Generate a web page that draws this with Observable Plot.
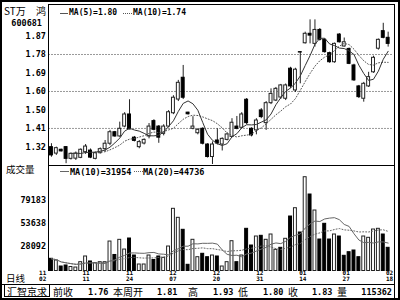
<!DOCTYPE html>
<html><head><meta charset="utf-8">
<script src="https://cdn.jsdelivr.net/npm/d3@7"></script>
<script src="https://cdn.jsdelivr.net/npm/@observablehq/plot@0.6"></script>
<style>
body{margin:0;background:#fff;}
#wrap{position:relative;width:400px;height:300px;overflow:hidden;background:#fff;}
.ln{position:absolute;background:#000;}
.t{position:absolute;white-space:pre;color:#000;}
.num{font:bold 8.5px "DejaVu Sans Mono",monospace;}
.lg{font:bold 8px "DejaVu Sans Mono",monospace;}
.cjk{font:10px "Noto Sans CJK SC",sans-serif;}
.cjks{font:9.5px "Noto Sans CJK SC",sans-serif;}
</style></head><body><div id="wrap"></div>
<script>
// ---- data ----
const open = [1.319,1.287,1.306,1.319,1.261,1.262,1.266,1.294,1.302,1.261,
1.289,1.309,1.336,1.393,1.372,1.421,1.481,1.366,1.319,1.337,
1.372,1.448,1.421,1.385,1.421,1.487,1.555,1.663,1.490,1.410,
1.388,1.410,1.332,1.270,1.352,1.332,1.355,1.370,1.421,1.415,
1.554,1.410,1.402,1.501,1.438,1.537,1.550,1.565,1.559,1.708,
1.600,1.790,1.834,1.881,1.831,1.900,1.851,1.785,1.740,1.877,
1.818,1.806,1.724,1.620,1.559,1.620,1.690,1.807,1.894,1.861];
const high = [1.336,1.319,1.309,1.322,1.290,1.295,1.310,1.332,1.310,1.295,
1.315,1.352,1.402,1.397,1.443,1.490,1.554,1.372,1.352,1.360,
1.436,1.455,1.426,1.430,1.500,1.574,1.650,1.724,1.492,1.470,
1.410,1.415,1.336,1.345,1.410,1.365,1.390,1.460,1.471,1.490,
1.560,1.415,1.460,1.510,1.545,1.608,1.615,1.630,1.632,1.715,
1.710,1.792,1.889,1.950,1.950,1.907,1.856,1.790,1.835,1.882,
1.860,1.810,1.730,1.625,1.640,1.690,1.770,1.855,1.933,1.889];
const low = [1.269,1.278,1.295,1.237,1.255,1.253,1.262,1.283,1.262,1.256,
1.285,1.294,1.326,1.368,1.368,1.415,1.405,1.345,1.311,1.330,
1.360,1.400,1.338,1.375,1.415,1.480,1.545,1.555,1.478,1.405,
1.380,1.330,1.265,1.233,1.330,1.300,1.350,1.365,1.405,1.410,
1.430,1.370,1.380,1.460,1.402,1.530,1.545,1.555,1.550,1.610,
1.590,1.633,1.830,1.831,1.815,1.845,1.785,1.735,1.735,1.835,
1.815,1.728,1.645,1.560,1.542,1.615,1.685,1.800,1.856,1.815];
const close = [1.278,1.314,1.298,1.261,1.286,1.287,1.306,1.322,1.267,1.289,
1.309,1.336,1.393,1.372,1.410,1.481,1.407,1.350,1.344,1.355,
1.421,1.405,1.366,1.421,1.492,1.564,1.638,1.564,1.482,1.421,
1.405,1.336,1.270,1.332,1.337,1.360,1.382,1.440,1.410,1.481,
1.438,1.377,1.451,1.468,1.537,1.583,1.608,1.625,1.625,1.620,
1.703,1.788,1.881,1.872,1.900,1.851,1.790,1.740,1.831,1.839,
1.839,1.732,1.650,1.567,1.633,1.666,1.762,1.851,1.861,1.831];
const volume = [13700,11800,5050,6200,4500,3900,9900,16300,10700,8750,
9900,9900,33100,18000,35000,24100,36500,17400,7300,7300,
17400,12350,16300,14800,27500,69850,59740,46270,6960,35040,
15500,19320,15500,17400,16300,5050,9900,33470,9900,17400,
47390,28640,38740,39530,35040,40990,23810,26050,36160,61200,
70520,43240,105340,85910,67940,35370,53010,35370,40990,38740,
17070,21110,23020,15500,38740,37280,46600,47390,40990,26050];
const volUp = [0,1,0,0,1,1,1,1,0,1, 1,1,1,0,1,1,0,0,1,1, 1,0,0,1,1,1,1,0,0,1,
1,0,0,1,0,1,1,1,0,1, 0,0,1,0,1,1,1,0,1,0, 1,0,1,0,1,0,0,0,1,0, 0,0,0,0,1,1,1,1,0,0];
const priceTickPos = [1.32,1.4117,1.5033,1.595,1.6867,1.7783,1.87];
const priceTickLabels = ["1.32","1.41","1.50","1.60","1.69","1.78","1.87"];
const priceGrid = [1.4117,1.595,1.7783];
const volTicks = [28092,53638,79183];
const dateTickPos = [-1.8,7.1,16.0,24.9,33.8,42.7,51.5,60.4,69.3];
const dateTickLabels = ["11\n02","11\n11","11\n24","12\n07","12\n20","12\n31","01\n14","01\n27","02\n18"];
const stockName = "ST万", stockName2 = "鸿", stockCode = "600681";
const priceLegend = ["MA(5)=1.80","MA(10)=1.74"];
const volLegend = ["MA(10)=31954","MA(20)=44736"];
const infoItems = [["汇智京求",7,"cjk"],["前收",53,"cjk"],["1.76",88,"num"],["本周开",113,"cjk"],["1.81",157,"num"],
["高",188,"cjk"],["1.93",213,"num"],["低",238,"cjk"],["1.80",263,"num"],["收",288,"cjk"],["1.83",312,"num"],["量",337,"cjk"]];
const infoVol = "115362";

// ---- build ----
const rows = open.map((o,i)=>({i,o,h:high[i],l:low[i],c:close[i],up:close[i]>=o,v:volume[i],vu:volUp[i]===1}));
const dateTicks = dateTickPos.map((p,k)=>({pos:p,label:dateTickLabels[k]}));
const labelMap = new Map(priceTickPos.map((p,k)=>[p,priceTickLabels[k]]));
const W=394, ML=48.5, MR=0.5, xDom=[-0.5,70.2];
const baseStyle = {background:"transparent",fontFamily:"DejaVu Sans Mono, monospace",fontSize:"8.5px",fontWeight:"bold",overflow:"visible"};
const edge = "#222";

const price = Plot.plot({
  width:W, height:165, marginLeft:ML, marginRight:MR, marginTop:0, marginBottom:0,
  x:{domain:xDom, axis:null, label:null},
  y:{domain:[1.228,2.046], label:null},
  style:baseStyle,
  marks:[
    Plot.ruleY(priceGrid,{stroke:"#333",strokeDasharray:"1,2",strokeWidth:1}),
    Plot.axisY(priceTickPos,{tickSize:0,tickPadding:3,label:null,tickFormat:d=>labelMap.get(d)}),
    Plot.ruleX(rows,{x:"i",y1:"l",y2:"h",stroke:edge,strokeWidth:1}),
    Plot.rect(rows,{x1:d=>d.i-0.3,x2:d=>d.i+0.3,y1:d=>Math.min(d.o,d.c),y2:d=>Math.max(d.o,d.c),
      fill:d=>d.up?"#fff":"#000",stroke:d=>d.up?edge:"#000",strokeWidth:1}),
    Plot.lineY(rows,Plot.windowY({k:10,anchor:"end",reduce:"mean",strict:true},{x:"i",y:"c",stroke:"#555",strokeWidth:1,strokeDasharray:"1,2"})),
    Plot.lineY(rows,Plot.windowY({k:5,anchor:"end",reduce:"mean",strict:true},{x:"i",y:"c",stroke:"#333",strokeWidth:1}))
  ]
});

const vol = Plot.plot({
  width:W, height:120, marginLeft:ML, marginRight:MR, marginTop:0, marginBottom:14.5,
  x:{domain:xDom, axis:null, label:null},
  y:{domain:[0,118500], label:null},
  style:baseStyle,
  marks:[
    Plot.axisY(volTicks,{tickSize:0,tickPadding:3,label:null,tickFormat:d=>String(d)}),
    Plot.rect(rows,{x1:d=>d.i-0.3,x2:d=>d.i+0.3,y1:d=>0,y2:"v",
      fill:d=>d.vu?"#fff":"#000",stroke:d=>d.vu?edge:"#000",strokeWidth:1}),
    Plot.lineY(rows,Plot.windowY({k:20,anchor:"end",reduce:"mean"},{x:"i",y:"v",stroke:"#666",strokeWidth:1,strokeDasharray:"1,2"})),
    Plot.lineY(rows,Plot.windowY({k:10,anchor:"end",reduce:"mean"},{x:"i",y:"v",stroke:"#666",strokeWidth:1})),
    Plot.text(dateTicks,{x:"pos",text:"label",frameAnchor:"bottom",dy:4.75,lineAnchor:"middle",lineHeight:1.1,fontSize:6,fill:"#000"})
  ]
});

const wrap = document.getElementById("wrap");
function place(el,x,y){el.style.position="absolute";el.style.left=x+"px";el.style.top=y+"px";wrap.appendChild(el);}
place(price,0,0);
place(vol,0,165);

function line(x,y,w,h,style){const d=document.createElement("div");d.className="ln";
  Object.assign(d.style,{left:x+"px",top:y+"px",width:w+"px",height:h+"px"},style||{});wrap.appendChild(d);return d;}
function txt(s,x,yc,cls,align){const d=document.createElement("div");d.className="t "+cls;d.textContent=s;
  d.style.left=x+"px";d.style.top=(yc-6)+"px";d.style.height="12px";d.style.lineHeight="12px";
  if(align==="right")d.style.transform="translateX(-100%)";wrap.appendChild(d);return d;}

// frames
line(0,0,400,2); line(0,0,2,300); line(398,0,2,300); line(0,298,400,2);
line(48,4,347,1); line(394,4,1,294);
line(48,4,1,267); line(48,165,346,1);
line(2,284,392,1);
line(4,284,46,13,{background:"transparent",border:"1px solid #000",boxSizing:"border-box"});

// left panel texts
txt(stockName,4,11,"cjk");
txt(stockName2,36,11,"cjk");
txt(stockCode,42,23,"num","right");
txt("成交量",6,169,"cjks");
txt("日线",6,277.5,"cjks");

// legends
line(60,13,8,1,{background:"#555"});
txt(priceLegend[0],69,13,"lg");
line(123,13,9,0,{background:"transparent",borderTop:"1px dotted #555"});
txt(priceLegend[1],133,13,"lg");
line(60,171,9,1,{background:"#666"});
txt(volLegend[0],70,171.5,"num");
line(134,171,9,0,{background:"transparent",borderTop:"1px dotted #666"});
txt(volLegend[1],143,171.5,"num");

// info bar
infoItems.forEach(([s,x,c])=>txt(s,x,291.5,c));
txt(infoVol,392,291.5,"num","right");
</script></body></html>
